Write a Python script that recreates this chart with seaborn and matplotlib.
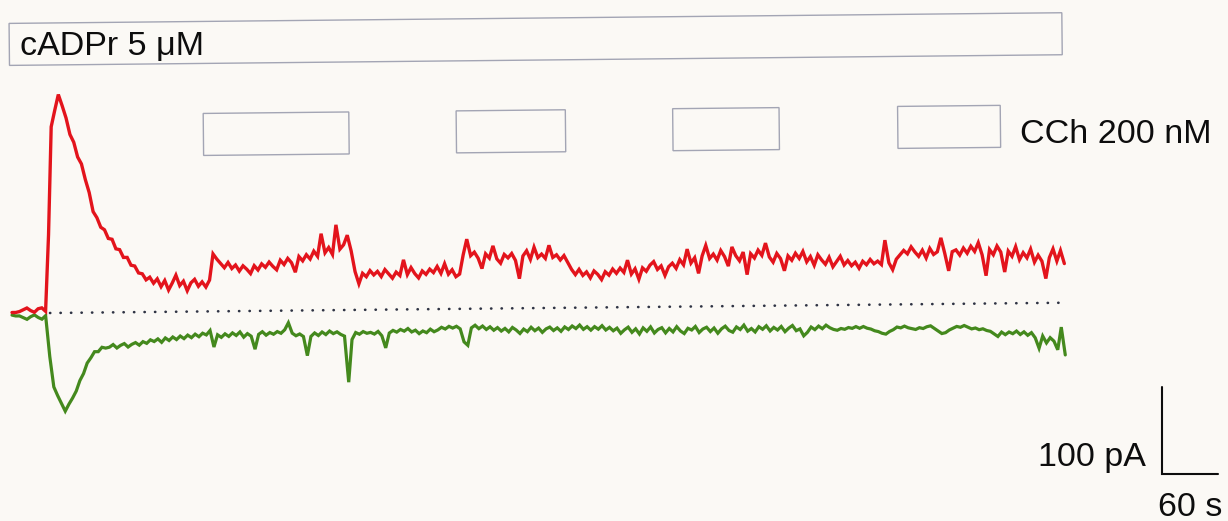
import numpy as np
import pandas as pd
import matplotlib
matplotlib.use("Agg")
import matplotlib.pyplot as plt
import seaborn as sns
from matplotlib.patches import Rectangle
from matplotlib.transforms import Affine2D

# ---------------------------------------------------------------- data
SAMPLE_INTERVAL_S = 4.0

# membrane current traces (pA), one sample every SAMPLE_INTERVAL_S seconds
red_pA = [
    1, 1, 2, 4, 6, 3, 1, 5, 6, 2,
    90, 214, 233, 251, 238, 224, 205, 196, 179, 171,
    153, 138, 116, 109, 98, 95, 85, 84, 73, 72,
    63, 63, 54, 53, 45, 44, 37, 40, 33,
    38, 29, 36, 25, 33, 42, 30, 35, 24, 33, 37, 29, 34, 28, 36,
    66, 60, 55, 50, 56, 49, 53, 46, 52, 48, 43, 52, 47, 54, 50, 56, 51, 47, 58, 53,
    60, 55, 44, 62, 57, 64, 59, 68, 62,
    88, 66, 72, 64, 98, 70, 75, 86, 68,
    44, 30, 42, 38, 45, 40, 44, 38, 46, 41, 36, 43, 39,
    57, 40, 48, 41, 36, 44, 40, 46, 42, 49, 41, 52, 40, 45, 37, 40,
    62, 80, 61, 65, 58, 46, 63, 58, 72, 57, 52,
    62, 58, 63, 55, 34, 60, 66, 56, 70, 58, 62, 57, 72, 58, 61, 55, 60, 52,
    44, 38, 44, 37, 41, 34, 42, 38, 32, 41, 37, 44, 39, 45, 40,
    54, 38, 44, 32, 45, 41, 48, 52, 43, 47, 36, 46, 50, 44,
    54, 48, 66, 50, 56, 38, 58, 70, 55, 60, 53, 64, 57, 46, 68, 58, 52, 62,
    36, 60, 55, 64, 58, 72, 56, 50, 60, 54, 40, 57, 52, 60, 54, 62, 50, 56, 46, 58,
    52, 47, 55,
    44, 50, 56, 46, 51, 45, 49, 42, 50, 46, 52, 47,
    50, 46, 74, 48, 40, 52, 57, 62, 58, 66, 60, 55, 62, 53, 64, 57, 60,
    76, 58, 38, 60, 62, 56, 64, 58, 66, 60, 70, 56, 32, 62, 56, 66, 59,
    36, 60, 54, 65, 50, 58, 52, 62, 47, 55, 48, 28, 52, 62, 48, 60, 45,
]

green_pA = [
    -2, -3, -3, -5, -7, -4, -2, -5, -7, -3,
    -50, -85, -95, -104, -113, -105, -98, -90, -78, -70, -58, -52, -45, -45, -40, -41,
    -40, -37, -41, -38, -36, -40, -37, -35, -38, -34, -36, -32, -34, -31,
    -35, -30, -33, -29, -32, -28, -31, -27, -30, -26, -29, -25, -27, -22,
    -41, -27, -30, -26, -29, -25, -28, -24, -30, -26, -29, -44, -27, -24, -28,
    -25, -27, -24, -26, -22, -14, -26, -29, -27, -30,
    -52, -30, -26, -29, -25, -28, -24, -27, -25, -28, -30, -83, -34, -26, -28,
    -25, -27, -26, -28, -25, -30,
    -44, -27, -24, -26, -23, -25, -22, -26, -24, -28, -25, -27, -23, -26, -24,
    -21, -23, -20, -22, -20, -23,
    -38, -42, -22, -19, -23, -20, -24, -21, -25, -22, -26, -23, -27, -22, -25,
    -29, -24, -27, -22, -26, -23, -28, -24, -22, -26, -23, -27, -22, -25, -21,
    -24, -20, -25, -22, -26, -22, -25, -21, -26, -23, -27,
    -24, -30, -26, -23, -29, -25, -31, -24, -28, -23, -30, -26, -24, -30, -25,
    -29, -23, -28, -31, -25, -27, -23, -30, -26, -24, -29, -25, -31, -26, -23,
    -28, -30, -24, -27, -22, -29, -26, -30, -24, -27, -23, -29, -25, -28, -24,
    -30, -26, -23, -29, -27, -35, -31, -25, -28, -24, -27, -23, -26,
    -28, -29, -27, -28, -26, -27, -25, -27, -25, -27,
    -28, -30, -31, -33, -34, -31, -29, -26, -27, -25,
    -27, -28, -29, -27, -28, -26, -25, -28, -31, -34,
    -33, -30, -28, -26, -27, -25, -27, -29, -28, -30,
    -29, -31, -32, -35, -38, -33,
    -36, -33, -35, -32, -36, -33, -37, -34, -40, -52, -38, -46, -40, -44, -54,
    -28, -60,
]

# drug application windows (s)
cadpr_window_s = (0.0, 1128.0)
cch_windows_s = [(207.0, 363.0), (478.0, 595.0), (710.0, 824.0), (951.0, 1061.0)]
cadpr_label = "cADPr 5 \u03bcM"
cch_label = "CCh 200 nM"

# scale bar
scale_current_pA = 100
scale_time_s = 60

assert len(red_pA) == len(green_pA)
time_s = np.arange(len(red_pA)) * SAMPLE_INTERVAL_S
df = pd.DataFrame({"time": time_s, "red": red_pA, "green": green_pA})

# ---------------------------------------------------------------- layout
W, H = 1228, 521
PX_PER_S = 56 / 60.0
PX_PER_PA = 87 / 100.0
X0_PX = 12           # left edge of the recording
BASE_PX = 313        # zero-current level (from top)
TILT_DEG = 0.58

BG = "#fbf9f5"
RED = "#e3141c"
GREEN = "#44891d"
DOT = "#2f3444"
BOX_EDGE = "#a3a5b4"
INK = "#0d0d0d"


def ypix_to_pA(y_top_px):
    return (BASE_PX - y_top_px) / PX_PER_PA


sns.set_theme(style="white")
plt.rcParams["font.family"] = ["Liberation Sans", "DejaVu Sans"]

fig = plt.figure(figsize=(W / 100, H / 100), dpi=100, facecolor=BG)
ax = fig.add_axes([0, 0, 1, 1])
ax.set_facecolor("none")
ax.set_axis_off()
ax.set_xlim(-X0_PX / PX_PER_S, (W - X0_PX) / PX_PER_S)
ax.set_ylim(-(H - BASE_PX) / PX_PER_PA, BASE_PX / PX_PER_PA)

tilted = []

# current traces
n_before = len(ax.lines)
sns.lineplot(data=df, x="time", y="green", color=GREEN, lw=2.3,
             estimator=None, sort=False, legend=False, ax=ax)
sns.lineplot(data=df, x="time", y="red", color=RED, lw=2.4,
             estimator=None, sort=False, legend=False, ax=ax)
tilted += ax.lines[n_before:]
for ln in ax.lines[n_before:]:
    ln.set_solid_joinstyle("miter")

# dotted zero-current line
t_zero_start = (50 - X0_PX) / PX_PER_S
t_zero_end = (1068 - X0_PX) / PX_PER_S
zero_line, = ax.plot([t_zero_start, t_zero_end], [0, 0], color=DOT, lw=1.9,
                     linestyle=(0, (0.1, 3.88)), dash_capstyle="round", zorder=1)
tilted.append(zero_line)

# application bars
c_top, c_bot = ypix_to_pA(23), ypix_to_pA(65)
box = Rectangle((cadpr_window_s[0], c_bot), cadpr_window_s[1] - cadpr_window_s[0],
                c_top - c_bot, facecolor="none", edgecolor=BOX_EDGE, lw=1.0)
ax.add_patch(box)
tilted.append(box)

k_top, k_bot = ypix_to_pA(115), ypix_to_pA(157)
for t0, t1 in cch_windows_s:
    r = Rectangle((t0, k_bot), t1 - t0, k_top - k_bot, facecolor="none",
                  edgecolor=BOX_EDGE, lw=1.0)
    ax.add_patch(r)
    tilted.append(r)

rot = Affine2D().rotate_deg_around(50, H - BASE_PX, TILT_DEG)
for art in tilted:
    art.set_transform(ax.transData + rot)
    art.set_clip_on(False)

# labels
FS = 24.5
fig.text(20 / W, 1 - 55 / H, cadpr_label, fontsize=FS, color=INK,
         ha="left", va="baseline")
fig.text(1020 / W, 1 - 143 / H, cch_label, fontsize=FS, color=INK,
         ha="left", va="baseline")

# scale bar (drawn in data units)
corner_t = (1162 - X0_PX) / PX_PER_S
corner_pA = ypix_to_pA(474)
ax.plot([corner_t, corner_t, corner_t + scale_time_s],
        [corner_pA + scale_current_pA, corner_pA, corner_pA],
        color=INK, lw=1.5, solid_joinstyle="miter", clip_on=False)
fig.text(1146 / W, 1 - 466 / H, f"{scale_current_pA} pA", fontsize=FS,
         color=INK, ha="right", va="baseline")
fig.text(1190 / W, 1 - 516 / H, f"{scale_time_s} s", fontsize=FS,
         color=INK, ha="center", va="baseline")

fig.savefig("out.png", dpi=100, facecolor=BG)
